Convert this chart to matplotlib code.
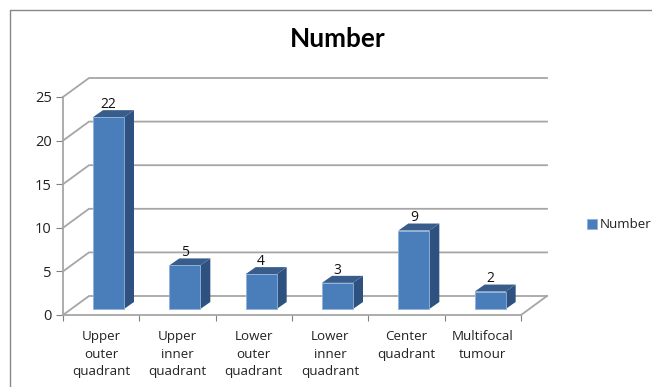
import matplotlib
matplotlib.use('Agg')
import matplotlib.pyplot as plt
from matplotlib.patches import Polygon

categories = ['Upper\nouter\nquadrant', 'Upper\ninner\nquadrant', 'Lower\nouter\nquadrant',
              'Lower\ninner\nquadrant', 'Center\nquadrant', 'Multifocal\ntumour']
number = [22, 5, 4, 3, 9, 2]
yticks = [0, 5, 10, 15, 20, 25]

W, H = 652, 387
plt.rcParams['font.family'] = ['Open Sans', 'DejaVu Sans']
fig = plt.figure(figsize=(W/100, H/100), dpi=100)

# front plane of the 3d box, in pixels
left, right, top, bottom = 63, 521, 97, 315
ax = fig.add_axes([left/W, 1-bottom/H, (right-left)/W, (bottom-top)/H])
ax.set_xlim(0, len(categories))
ax.set_ylim(0, 25)
ax.patch.set_visible(False)

slot_px = (right-left)/len(categories)
unit_px = (bottom-top)/25.
# depth offsets of wall, and of the bars inside the box
wall_dx, wall_dy = 26/slot_px, 19/unit_px
bar_x0, bar_dy = 30/slot_px, 6/unit_px
bar_w = 31/slot_px
side_dx, side_dy = 10/slot_px, 7/unit_px

grey = '#a6a6a6'
n = len(categories)
for v in yticks:
    ax.plot([0, wall_dx, n+wall_dx], [v, v+wall_dy, v+wall_dy], color=grey, lw=1.3, clip_on=False, zorder=1)
ax.plot([n, n+wall_dx], [0, wall_dy], color=grey, lw=1.3, clip_on=False, zorder=1)

front_c, side_c, top_c = '#4a7ebb', '#2f5180', '#385d8a'
front = None
for i, v in enumerate(number):
    x0 = i + bar_x0
    x1 = x0 + bar_w
    y0 = bar_dy
    y1 = bar_dy + v
    ax.add_patch(Polygon([(x1, y0), (x1+side_dx, y0+side_dy), (x1+side_dx, y1+side_dy), (x1, y1)],
                         fc=side_c, ec='none', clip_on=False, zorder=3))
    ax.add_patch(Polygon([(x0, y1), (x0+side_dx, y1+side_dy), (x1+side_dx, y1+side_dy), (x1, y1)],
                         fc=top_c, ec='none', clip_on=False, zorder=3))
    front = Polygon([(x0, y0), (x1, y0), (x1, y1), (x0, y1)], fc=front_c, ec='#8fb3dc', lw=0.6,
                    clip_on=False, zorder=4, label='Number' if i == 0 else None)
    ax.add_patch(front)
    ax.text(x0 + bar_w/2, y1 + side_dy - 0.2, str(v), ha='center', va='bottom', fontsize=10,
            color='#111111', clip_on=False, zorder=5, linespacing=1)

for s in ['top', 'right']:
    ax.spines[s].set_visible(False)
for s in ['left', 'bottom']:
    ax.spines[s].set_color(grey)
    ax.spines[s].set_linewidth(1.3)
ax.set_yticks(yticks)
ax.tick_params(axis='y', length=5, color='#808080', labelsize=10.5, labelcolor='#222222', pad=3)
ax.set_xticks(range(n+1))
ax.set_xticklabels([])
ax.tick_params(axis='x', length=4, color='#808080', direction='out')
ax.set_xticks([i+0.5 for i in range(n)], minor=True)
ax.set_xticklabels(categories, minor=True, fontsize=9.6, color='#222222', linespacing=1.45)
ax.tick_params(axis='x', which='minor', length=0, pad=11)

fig.text(338/W, 1-39/H, 'Number', ha='center', va='center', fontsize=18.8, fontweight='bold',
         family=['Lato', 'DejaVu Sans'], color='black')

handles, labels = ax.get_legend_handles_labels()
fig.legend(handles, labels, loc='center left', bbox_to_anchor=(587/W, 1-225/H), frameon=False, fontsize=9.6,
           handlelength=0.75, handleheight=0.75, handletextpad=0.2, borderpad=0, borderaxespad=0,
           labelcolor='#222222')

# chart frame, open at the right and bottom
fig.add_artist(plt.Line2D([9.5/W, 9.5/W, 1], [0, 1-9.5/H, 1-9.5/H], color='#888888', lw=1))

fig.savefig('out.png', dpi=100)
